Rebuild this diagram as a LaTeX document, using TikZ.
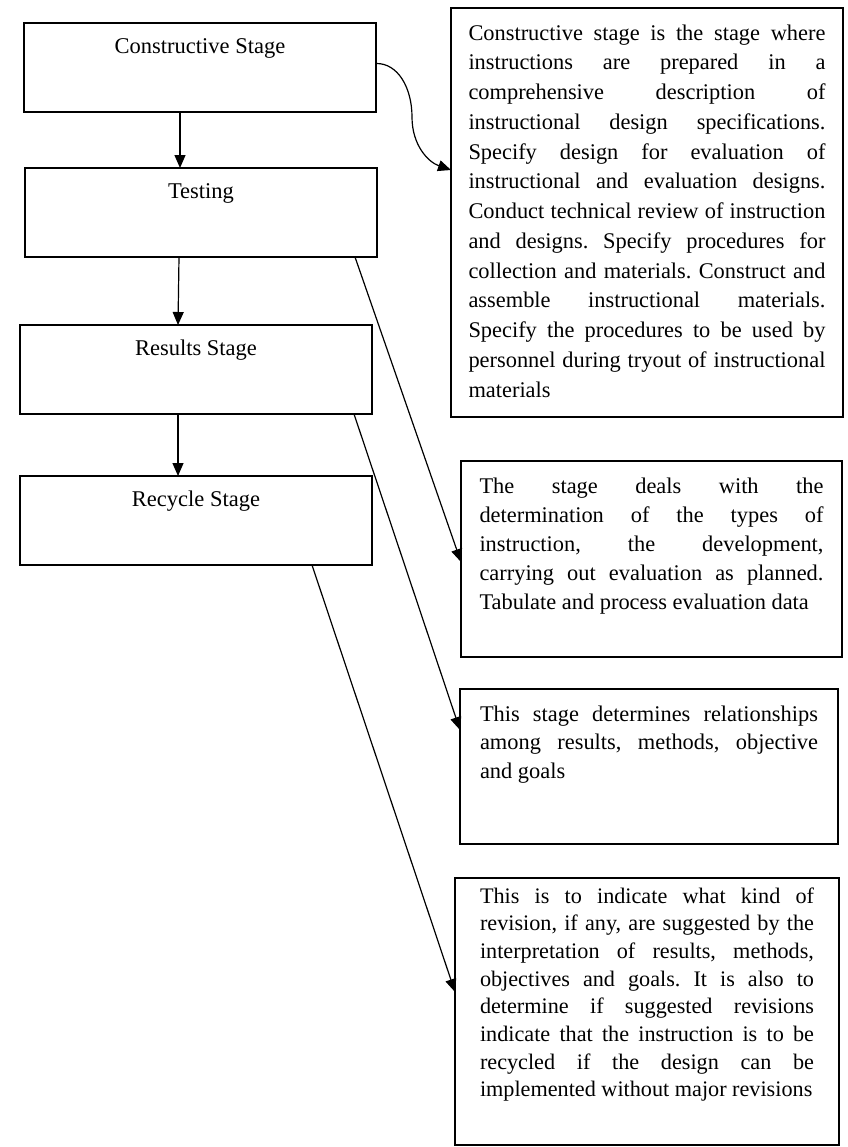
\documentclass[tikz,border=0pt]{standalone}
\usepackage{fontspec}
\setmainfont{Liberation Serif}
\usetikzlibrary{arrows.meta}
\frenchspacing
\newcommand{\descpar}[4]{%
  \parbox[t][#2][t]{#1}{\frenchspacing\tolerance=10000\hyphenpenalty=10000\exhyphenpenalty=10000
  \rule{0pt}{#3}\ignorespaces#4}}
\begin{document}
\begin{tikzpicture}[x=1bp,y=-1bp,
  stagebox/.style={draw, line width=1.6bp, minimum width=352bp, inner xsep=0pt,
    inner ysep=0pt, text height=30bp, text depth=59bp, outer sep=0pt,
    font=\fontsize{22.5bp}{28bp}\selectfont},
  descbox/.style={draw, line width=1.6bp, anchor=north west, inner ysep=0pt,
    outer sep=0pt},
  arr/.style={line width=1.2bp, -{Triangle[length=13bp,width=11bp]}}]
\useasboundingbox (0,0) rectangle (848,1147);

% left stage boxes
\node[stagebox] (c)  at (200,67.5)   {Constructive Stage};
\node[stagebox] (t)  at (201,212.5)  {Testing};
\node[stagebox] (r)  at (196,369.5)  {Results Stage};
\node[stagebox] (rc) at (196,520.5) {Recycle Stage};

% description boxes
\node[descbox, inner xsep=17.5bp, font=\fontsize{22.4bp}{29.75bp}\selectfont] (d1) at (451,8)
 {\descpar{357bp}{409bp}{32bp}{Constructive stage is the stage where \linebreak
 instructions are prepared in a \linebreak
 comprehensive description of \linebreak
 instructional design specifications. \linebreak
 Specify design for evaluation of \linebreak
 instructional and evaluation designs. \linebreak
 Conduct technical review of instruction \linebreak
 and designs. Specify procedures for \linebreak
 collection and materials. Construct and \linebreak
 assemble instructional materials. \linebreak
 Specify the procedures to be used by \linebreak
 personnel during tryout of instructional \linebreak
 materials}};

\node[descbox, inner xsep=18.5bp, font=\fontsize{22.4bp}{29bp}\selectfont] (d2) at (461,461)
 {\descpar{344bp}{196bp}{32bp}{The stage deals with the \linebreak
 determination of the types of \linebreak
 instruction, the development, \linebreak
 carrying out evaluation as planned. \linebreak
 Tabulate and process evaluation data}};

\node[descbox, inner xsep=20bp, font=\fontsize{22.4bp}{28.5bp}\selectfont] (d3) at (460,689)
 {\descpar{338bp}{155bp}{32bp}{This stage determines relationships \linebreak
 among results, methods, objective \linebreak
 and goals}};

\node[descbox, inner xsep=25bp, font=\fontsize{22.2bp}{27.7bp}\selectfont] (d4) at (455,878)
 {\descpar{334bp}{267bp}{25bp}{This is to indicate what kind of \linebreak
 revision, if any, are suggested by the \linebreak
 interpretation of results, methods, \linebreak
 objectives and goals. It is also to \linebreak
 determine if suggested revisions \linebreak
 indicate that the instruction is to be \linebreak
 recycled if the design can be \linebreak
 implemented without major revisions}};

% vertical flow arrows
\draw[arr] ([xshift=-20bp]c.south) -- ([xshift=-21bp]t.north);
\draw[arr] ([xshift=-22bp]t.south) -- ([xshift=-18bp]r.north);
\draw[arr] ([xshift=-18bp]r.south) -- ([xshift=-18bp]rc.north);

% curved arrow to first description
\draw[arr] ([yshift=4bp]c.east) .. controls (398,63) and (412,88) .. (412,117)
  .. controls (412,145) and (428,162) .. ([yshift=42.5bp]d1.west);

% diagonal arrows
\draw[arr] ([xshift=154bp]t.south) -- ([yshift=-3bp]d2.west);
\draw[arr] ([xshift=158bp]r.south) -- ([yshift=36.5bp]d3.west);
\draw[arr] ([xshift=116bp]rc.south) -- ([yshift=19.5bp]d4.west);
\end{tikzpicture}
\end{document}
